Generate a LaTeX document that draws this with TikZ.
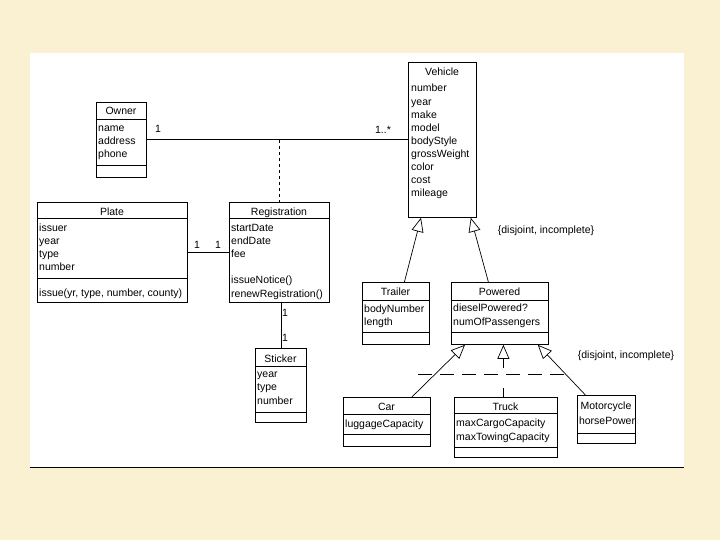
\documentclass[tikz,border=0pt]{standalone}
\usepackage{fontspec}
\setmainfont{Liberation Sans}
\usetikzlibrary{arrows.meta}
\definecolor{parch}{RGB}{250,240,210}
\newcommand\sepline[2]{\draw[ln] ([yshift=-#2pt]#1.north west) -- ([yshift=-#2pt]#1.north east);}
\begin{document}
\begin{tikzpicture}[x=1pt,y=-1pt,
  box/.style={draw, line width=0.8pt, fill=white, inner sep=0pt, anchor=north west},
  txt/.style={font=\fontsize{10.5}{13}\selectfont, inner sep=0pt},
  ln/.style={line width=0.8pt},
  gen/.style={line width=0.7pt, -{Triangle[open, length=14pt, width=12pt]}},
]
\useasboundingbox (0,0) rectangle (720,540);
\fill[parch] (0,0) rectangle (720,540);
\fill[white] (30,53) rectangle (684,468);
\draw[line width=1.5pt] (30,467.5) -- (684,467.5);

% Owner
\node[box, minimum width=50pt, minimum height=75pt] (owner) at (96,102) {};
\sepline{owner}{17}\sepline{owner}{63}
\node[txt, anchor=base] (owner-t) at (121,115) {Owner};
\foreach \s [count=\i from 0] in {name,address,phone}
  \node[txt, anchor=base west] (owner-a\i) at (98,{132+13*\i}) {\s};

% Vehicle
\node[box, minimum width=68pt, minimum height=155pt] (vehicle) at (408,62) {};
\node[txt, anchor=base] (vehicle-t) at (442,76) {Vehicle};
\foreach \s [count=\i from 0] in {number,year,make,model,bodyStyle,grossWeight,color,cost,mileage}
  \node[txt, anchor=base west] (vehicle-a\i) at (411,{92+13.1*\i}) {\s};

% Plate
\node[box, minimum width=150pt, minimum height=100pt] (plate) at (37,202) {};
\sepline{plate}{16}\sepline{plate}{76}
\node[txt, anchor=base] (plate-t) at (112,215) {Plate};
\foreach \s [count=\i from 0] in {issuer,year,type,number}
  \node[txt, anchor=base west] (plate-a\i) at (39,{231+13*\i}) {\s};
\node[txt, anchor=base west] (plate-o) at (39,296) {issue(yr, type, number, county)};

% Registration
\node[box, minimum width=100pt, minimum height=100pt] (registration) at (229,202) {};
\sepline{registration}{16}
\node[txt, anchor=base] (reg-t) at (279,215) {Registration};
\foreach \s [count=\i from 0] in {startDate,endDate,fee}
  \node[txt, anchor=base west] (reg-a\i) at (231,{231+13*\i}) {\s};
\node[txt, anchor=base west] (reg-o1) at (231,283) {issueNotice()};
\node[txt, anchor=base west] (reg-o2) at (231,297) {renewRegistration()};

% Sticker
\node[box, minimum width=51pt, minimum height=74pt] (sticker) at (255,348) {};
\sepline{sticker}{18}\sepline{sticker}{64}
\node[txt, anchor=base] (sticker-t) at (280.5,362) {Sticker};
\foreach \s [count=\i from 0] in {year,type,number}
  \node[txt, anchor=base west] (sticker-a\i) at (257,{377+13.5*\i}) {\s};

% Trailer
\node[box, minimum width=67pt, minimum height=62pt] (trailer) at (362,282) {};
\sepline{trailer}{18}\sepline{trailer}{50}
\node[txt, anchor=base] (trailer-t) at (395.5,295) {Trailer};
\node[txt, anchor=base west] (trailer-a0) at (364,312) {bodyNumber};
\node[txt, anchor=base west] (trailer-a1) at (364,325) {length};

% Powered
\node[box, minimum width=97pt, minimum height=62pt] (powered) at (451,282) {};
\sepline{powered}{18}\sepline{powered}{50}
\node[txt, anchor=base] (powered-t) at (499.5,295) {Powered};
\node[txt, anchor=base west] (powered-a0) at (453,311) {dieselPowered?};
\node[txt, anchor=base west] (powered-a1) at (453,325) {numOfPassengers};

% Car
\node[box, minimum width=87pt, minimum height=49pt] (car) at (343,397) {};
\sepline{car}{17}\sepline{car}{37}
\node[txt, anchor=base] (car-t) at (386.5,410) {Car};
\node[txt, anchor=base west] (car-a0) at (345,427) {luggageCapacity};

% Truck
\node[box, minimum width=103pt, minimum height=60pt] (truck) at (454,397) {};
\sepline{truck}{16}\sepline{truck}{50}
\node[txt, anchor=base] (truck-t) at (505.5,410) {Truck};
\node[txt, anchor=base west] (truck-a0) at (456,426) {maxCargoCapacity};
\node[txt, anchor=base west] (truck-a1) at (456,440) {maxTowingCapacity};

% Motorcycle
\node[box, minimum width=58pt, minimum height=48pt] (motorcycle) at (577,395) {};
\sepline{motorcycle}{38}
\node[txt, anchor=base] (moto-t) at (606,409) {Motorcycle};
\node[txt, anchor=base west] (moto-a0) at (578.8,424) {horsePower};

% Associations
\draw[ln] (owner.east) -- (owner.east -| vehicle.west);
\draw[ln, dash pattern=on 3pt off 3pt] (registration.north |- owner.east) -- (registration.north);
\draw[ln] (plate.east) -- (registration.west);
\draw[ln] (sticker.north |- registration.south) -- (sticker.north);

\node[txt] (m1) at (158,129) {1};
\node[txt] (m2) at (383,130) {1..*};
\node[txt] (m3) at (197,245) {1};
\node[txt] (m4) at (218,245) {1};
\node[txt] (m5) at (285,313) {1};
\node[txt] (m6) at (285,338) {1};

% Generalizations
\draw[gen] ([xshift=8.5pt]trailer.north) -- ([xshift=13pt]vehicle.south west);
\draw[gen] ([xshift=-11.5pt]powered.north) -- ([xshift=-6pt]vehicle.south east);
\node[txt] (c1) at (546,231) {\{disjoint, incomplete\}};

\draw[gen] ([xshift=25pt]car.north) -- ([xshift=14pt]powered.south west);
\draw[ln] ([xshift=-2.5pt]truck.north) -- ++(0,-9);
\draw[gen] ([xshift=-2.5pt,yshift=29pt]truck.north) -- ([xshift=-2.5pt]truck.north |- powered.south);
\draw[gen] ([xshift=-21pt]motorcycle.north) -- ([xshift=-11pt]powered.south east);
\coordinate (cl) at (418,374);
\coordinate (cr) at (572,374);
\draw[ln, dash pattern=on 14pt off 8pt] (cl) -- (cr);
\node[txt] (c2) at (626,356) {\{disjoint, incomplete\}};
\end{tikzpicture}
\end{document}
